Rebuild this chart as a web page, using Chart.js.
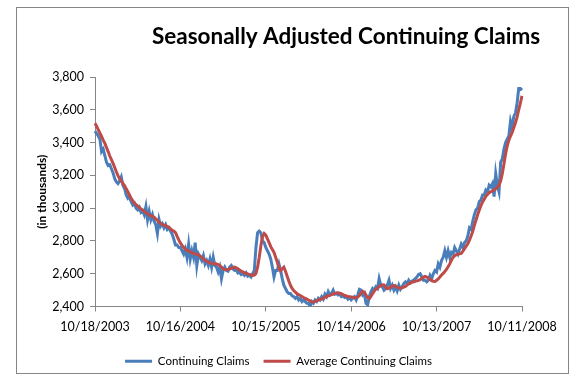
<!DOCTYPE html>
<html>
<head>
<meta charset="utf-8">
<script src="https://cdn.jsdelivr.net/npm/chart.js@4.4.0/dist/chart.umd.min.js"></script>
<style>
  html, body { margin: 0; padding: 0; background: #fff; }
  #wrap { position: relative; width: 576px; height: 389px; }
</style>
</head>
<body>
<div id="wrap"><canvas id="claimsChart" width="576" height="389"></canvas></div>
<script>
// weekly series, first week ending 10/18/2003
const firstWeek = [2003, 9, 18];

const claims = [
  3470, 3455, 3440, 3420, 3345, 3360, 3320, 3280, 3260, 3265,
  3240, 3215, 3180, 3160, 3150, 3165, 3190, 3140, 3120, 3080,
  3060, 3070, 3040, 3020, 3030, 3000, 2990, 3005, 2975, 2985,
  2960, 3010, 2930, 2980, 2930, 2960, 2920, 2900, 2845, 2930,
  2890, 2905, 2880, 2900, 2870, 2880, 2860, 2840, 2810, 2775,
  2775, 2760, 2760, 2740, 2720, 2750, 2700, 2780, 2690, 2740,
  2700, 2790, 2650, 2720, 2700, 2680, 2710, 2660, 2680, 2650,
  2690, 2640, 2700, 2650, 2640, 2610, 2640, 2570, 2620, 2640,
  2620, 2615, 2640, 2650, 2630, 2620, 2625, 2605, 2610, 2595,
  2600, 2590, 2605, 2585, 2590, 2580, 2600, 2620, 2760, 2850,
  2860, 2850, 2800, 2790, 2760, 2740, 2720, 2690, 2640, 2580,
  2620, 2620, 2660, 2620, 2570, 2530, 2510, 2490, 2480, 2480,
  2465, 2460, 2450, 2460, 2440, 2450, 2430, 2440, 2430, 2420,
  2420, 2400, 2430, 2420, 2440, 2430, 2450, 2440, 2460, 2445,
  2475, 2460, 2490, 2470, 2480, 2500, 2475, 2480, 2470, 2475,
  2460, 2465, 2455, 2460, 2445, 2455, 2440, 2450, 2460, 2440,
  2470, 2505, 2500, 2470, 2480, 2420, 2410, 2460, 2490, 2510,
  2500, 2520, 2510, 2570, 2530, 2520, 2500, 2510, 2530, 2560,
  2510, 2530, 2500, 2520, 2495, 2530, 2505, 2520, 2540, 2550,
  2540, 2560, 2545, 2555, 2560, 2570, 2580, 2595, 2600, 2580,
  2560, 2560, 2550, 2560, 2590, 2570, 2600, 2620, 2610, 2660,
  2640, 2680, 2700, 2740, 2700, 2740, 2700, 2730, 2720, 2760,
  2740, 2720, 2750, 2780, 2760, 2790, 2800, 2830, 2880, 2870,
  2920, 2960, 2990, 3000, 3040, 3050, 3080, 3080, 3110, 3100,
  3140, 3130, 3150, 3070, 3210, 3140, 3100, 3280, 3300, 3360,
  3400, 3420, 3440, 3530, 3490, 3560, 3580, 3640, 3730, 3730,
  3720
];

const avgClaims = [
  3518, 3500, 3478, 3458, 3437, 3415, 3395, 3370, 3345, 3318,
  3296, 3273, 3248, 3222, 3198, 3180, 3165, 3150, 3138, 3118,
  3100, 3080, 3060, 3045, 3030, 3022, 3012, 3005, 2996, 2988,
  2980, 2973, 2965, 2958, 2953, 2950, 2945, 2935, 2926, 2915,
  2906, 2900, 2896, 2893, 2888, 2884, 2874, 2865, 2860, 2850,
  2828, 2806, 2788, 2772, 2762, 2748, 2743, 2738, 2733, 2728,
  2724, 2720, 2718, 2715, 2708, 2700, 2690, 2682, 2676, 2671,
  2666, 2663, 2661, 2662, 2660, 2655, 2650, 2640, 2630, 2626,
  2624, 2626, 2629, 2632, 2638, 2640, 2636, 2630, 2622, 2616,
  2611, 2606, 2603, 2599, 2596, 2592, 2590, 2592, 2602, 2640,
  2700, 2770, 2825, 2845, 2835, 2812, 2790, 2765, 2748, 2730,
  2700, 2670, 2632, 2618, 2630, 2640, 2615, 2585, 2555, 2530,
  2510, 2498, 2487, 2478, 2472, 2467, 2461, 2455, 2450, 2445,
  2440, 2434, 2428, 2427, 2431, 2436, 2440, 2443, 2446, 2450,
  2456, 2461, 2465, 2468, 2472, 2476, 2480, 2483, 2484, 2481,
  2478, 2472, 2467, 2464, 2461, 2460, 2458, 2456, 2454, 2453,
  2458, 2467, 2480, 2492, 2488, 2470, 2455, 2448, 2462, 2478,
  2494, 2505, 2512, 2520, 2526, 2533, 2532, 2518, 2508, 2512,
  2518, 2524, 2528, 2524, 2517, 2514, 2513, 2514, 2518, 2522,
  2530, 2538, 2543, 2548, 2551, 2554, 2556, 2560, 2564, 2572,
  2580, 2584, 2580, 2573, 2565, 2558, 2554, 2553, 2560, 2568,
  2580, 2592, 2602, 2614, 2626, 2642, 2660, 2682, 2700, 2710,
  2716, 2719, 2721, 2724, 2738, 2753, 2768, 2782, 2805, 2830,
  2858, 2895, 2928, 2960, 2988, 3015, 3038, 3055, 3072, 3084,
  3094, 3100, 3106, 3110, 3118, 3128, 3140, 3165, 3210, 3270,
  3330, 3380, 3415, 3440, 3462, 3490, 3520, 3555, 3600, 3640,
  3685
];

const tickEvery = 52; // one label per year
const yMin = 2400, yMax = 3800, yStep = 200;

const pad2 = n => String(n).padStart(2, '0');
const weeks = claims.map((_, i) => {
  const d = new Date(Date.UTC(firstWeek[0], firstWeek[1], firstWeek[2] + 7 * i));
  return pad2(d.getUTCMonth() + 1) + '/' + pad2(d.getUTCDate()) + '/' + d.getUTCFullYear();
});

const axisGrey = '#868686';
const font = 'Lato';

// white background, outer frame and title
const frame = {
  id: 'frame',
  beforeDraw(chart) {
    const ctx = chart.ctx;
    ctx.save();
    ctx.fillStyle = '#fff';
    ctx.fillRect(0, 0, chart.width, chart.height);
    ctx.strokeStyle = axisGrey;
    ctx.lineWidth = 1;
    ctx.strokeRect(16.5, 7.5, 552, 366);
    ctx.fillStyle = '#000';
    ctx.font = 'bold 22.5px ' + font;
    ctx.textAlign = 'center';
    ctx.textBaseline = 'middle';
    ctx.fillText('Seasonally Adjusted Continuing Claims', 346, 37);
    ctx.restore();
  }
};

new Chart(document.getElementById('claimsChart'), {
  type: 'line',
  data: {
    labels: weeks,
    datasets: [
      {
        label: 'Continuing Claims',
        data: claims,
        borderColor: '#4A7EBB',
        backgroundColor: '#4A7EBB',
        borderWidth: 3,
        pointRadius: 0,
        tension: 0,
        order: 1
      },
      {
        label: 'Average Continuing Claims',
        data: avgClaims,
        borderColor: '#BE4B48',
        backgroundColor: '#BE4B48',
        borderWidth: 3,
        pointRadius: 0,
        tension: 0,
        order: 0
      }
    ]
  },
  options: {
    responsive: false,
    animation: false,
    layout: { padding: { left: 35, right: 54, top: 77, bottom: 12 } },
    plugins: {
      tooltip: { enabled: false },
      legend: {
        position: 'bottom',
        labels: {
          color: '#000',
          font: { family: font, size: 11.5 },
          boxWidth: 27,
          boxHeight: 3,
          padding: 14,
          sort: (a, b) => a.datasetIndex - b.datasetIndex,
          generateLabels(chart) {
            const items = Chart.defaults.plugins.legend.labels.generateLabels(chart);
            items.forEach(it => { it.lineWidth = 0; });
            return items;
          }
        }
      }
    },
    scales: {
      x: {
        type: 'category',
        offset: false,
        afterBuildTicks(axis) {
          axis.ticks = axis.ticks.filter(t => t.value % tickEvery === 0);
        },
        afterFit(axis) { axis.height = 35; },
        ticks: { autoSkip: false, maxRotation: 0, color: '#000', padding: 8, font: { family: font, size: 12.5 } },
        grid: { drawOnChartArea: false, color: axisGrey, tickLength: 5 },
        border: { color: axisGrey }
      },
      y: {
        min: yMin,
        max: yMax,
        afterFit(axis) { axis.width = 60; },
        ticks: {
          stepSize: yStep,
          color: '#000',
          padding: 6,
          font: { family: font, size: 12.5 },
          callback: v => v.toLocaleString('en-US')
        },
        grid: { drawOnChartArea: false, color: axisGrey, tickLength: 5 },
        border: { color: axisGrey },
        title: {
          display: true,
          text: '(in thousands)',
          color: '#000',
          font: { family: font, size: 12, weight: 'bold' },
          padding: { top: 0, bottom: 0 }
        }
      }
    }
  },
  plugins: [frame]
});
</script>
</body>
</html>
